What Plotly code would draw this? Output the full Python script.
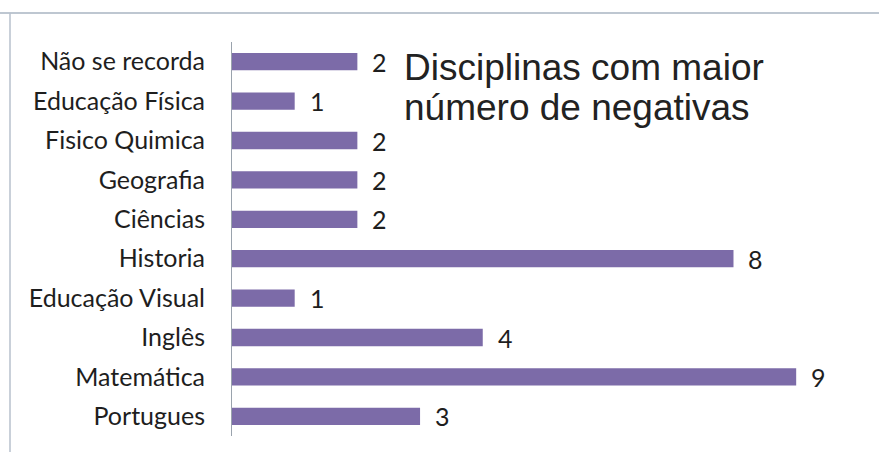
import plotly.graph_objects as go

categories = ["Portugues", "Matemática", "Inglês", "Educação Visual", "Historia",
              "Ciências", "Geografia", "Fisico Quimica", "Educação Física", "Não se recorda"]
values = [3, 9, 4, 1, 8, 2, 2, 2, 1, 2]
title_lines = ["Disciplinas com maior", "número de negativas"]

bar_color = "#7c6ba8"
label_font = dict(family="Lato, Open Sans, sans-serif", size=25, color="#1e1e1e")

W, H = 879, 461
ml, mr, mt, mb = 232, 17, 42, 25
pw, ph = W - ml - mr, H - mt - mb


def px_x(x):
    return (x - ml) / pw


def px_y(y):
    return 1 - (y - mt) / ph


fig = go.Figure()
fig.add_trace(go.Bar(
    y=categories, x=values, orientation="h",
    marker=dict(color=bar_color, line=dict(width=0)),
    width=0.44,
))

annotations = []
for c, v in zip(categories, values):
    annotations.append(dict(
        x=v, y=c, xref="x", yref="y", text=str(v), showarrow=False,
        xanchor="left", yanchor="middle", xshift=13,
        font=label_font,
    ))
for line, yc in zip(title_lines, [67, 108]):
    annotations.append(dict(
        x=px_x(402), y=px_y(yc), xref="paper", yref="paper", text=line, showarrow=False,
        xanchor="left", yanchor="middle", align="left",
        font=dict(family="Liberation Sans, Arial, sans-serif", size=37, color="#222222"),
    ))

shapes = [
    dict(type="line", xref="paper", yref="paper",
         x0=px_x(0), x1=px_x(W), y0=px_y(13), y1=px_y(13),
         line=dict(color="#a9b4c2", width=1.5)),
    dict(type="line", xref="paper", yref="paper",
         x0=px_x(10), x1=px_x(10), y0=px_y(13), y1=px_y(452),
         line=dict(color="#b7c0cc", width=1.5)),
]

fig.update_layout(
    width=W, height=H,
    margin=dict(l=ml, r=mr, t=mt, b=mb),
    paper_bgcolor="#ffffff", plot_bgcolor="#ffffff",
    showlegend=False,
    annotations=annotations,
    shapes=shapes,
    xaxis=dict(range=[0, 10.05], visible=False, showgrid=False, zeroline=False, fixedrange=True),
    yaxis=dict(
        showline=True, linecolor="#9aa3ad", linewidth=1,
        ticks="", ticklabelstandoff=21, showgrid=False,
        tickfont=label_font,
        categoryorder="array", categoryarray=categories,
    ),
)

fig.write_html("out.html", config={"displayModeBar": False},
               post_script="document.body.style.margin='0';")
